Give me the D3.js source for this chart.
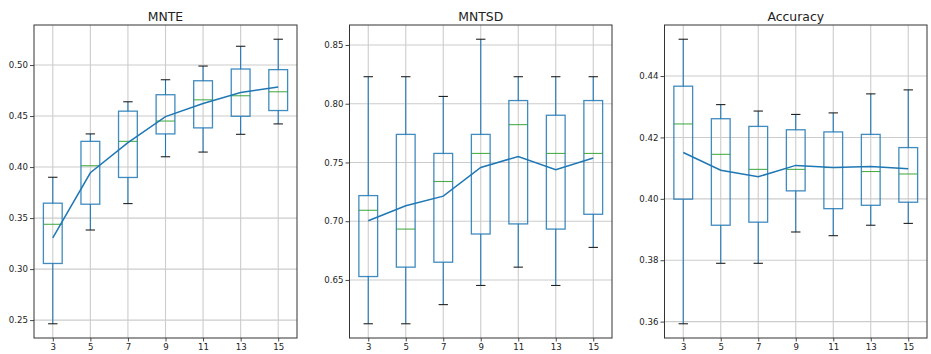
<!DOCTYPE html>
<html>
<head>
<meta charset="utf-8">
<script src="https://cdn.jsdelivr.net/npm/d3@7"></script>
<style>
  body { margin: 0; background: #fff; }
  svg { display: block; }
  text { font-family: "DejaVu Sans", sans-serif; fill: #222; }
</style>
</head>
<body>
<svg id="chart" width="931" height="354"></svg>
<script>
// Window sizes (number of neighbours) shown on every panel
const categories = ["3", "5", "7", "9", "11", "13", "15"];

// MNTE: five-number summaries per window size, plus mean curve
const mnteWhiskerLow = [0.2464, 0.3383, 0.3642, 0.4101, 0.4147, 0.4321, 0.4423];
const mnteQ1         = [0.3055, 0.3636, 0.3898, 0.4325, 0.4384, 0.4498, 0.4554];
const mnteMedian     = [0.3439, 0.4013, 0.4252, 0.4451, 0.4659, 0.4699, 0.4738];
const mnteQ3         = [0.3646, 0.4252, 0.4548, 0.4709, 0.4846, 0.4961, 0.4955];
const mnteWhiskerHigh= [0.3900, 0.4325, 0.4640, 0.4856, 0.4990, 0.5184, 0.5253];
const mnteMean       = [0.3307, 0.3944, 0.4240, 0.4495, 0.4623, 0.4731, 0.4784];
const mnteTicks      = [0.25, 0.30, 0.35, 0.40, 0.45, 0.50];

// MNTSD
const mntsdWhiskerLow = [0.6127, 0.6127, 0.6290, 0.6453, 0.6609, 0.6453, 0.6777];
const mntsdQ1         = [0.6529, 0.6609, 0.6651, 0.6891, 0.6977, 0.6933, 0.7059];
const mntsdMedian     = [0.7093, 0.6933, 0.7338, 0.7577, 0.7822, 0.7577, 0.7577];
const mntsdQ3         = [0.7218, 0.7739, 0.7577, 0.7739, 0.8027, 0.7902, 0.8027];
const mntsdWhiskerHigh= [0.8230, 0.8230, 0.8062, 0.8549, 0.8230, 0.8230, 0.8230];
const mntsdMean       = [0.7004, 0.7132, 0.7213, 0.7457, 0.7551, 0.7438, 0.7538];
const mntsdTicks      = [0.65, 0.70, 0.75, 0.80, 0.85];

// Accuracy
const accWhiskerLow = [0.3593, 0.3790, 0.3790, 0.3892, 0.3880, 0.3914, 0.3920];
const accQ1         = [0.3999, 0.3914, 0.3924, 0.4026, 0.3968, 0.3979, 0.3989];
const accMedian     = [0.4244, 0.4145, 0.4096, 0.4096, 0.4102, 0.4089, 0.4081];
const accQ3         = [0.4367, 0.4261, 0.4236, 0.4225, 0.4218, 0.4210, 0.4167];
const accWhiskerHigh= [0.4520, 0.4307, 0.4286, 0.4275, 0.4280, 0.4342, 0.4355];
const accMean       = [0.4151, 0.4093, 0.4072, 0.4109, 0.4102, 0.4105, 0.4098];
const accTicks      = [0.36, 0.38, 0.40, 0.42, 0.44];

const panels = [
  { title: "MNTE", left: 34, right: 297, lo: mnteWhiskerLow, q1: mnteQ1, med: mnteMedian,
    q3: mnteQ3, hi: mnteWhiskerHigh, mean: mnteMean, ticks: mnteTicks, fmt: d3.format(".2f") },
  { title: "MNTSD", left: 349.5, right: 612, lo: mntsdWhiskerLow, q1: mntsdQ1, med: mntsdMedian,
    q3: mntsdQ3, hi: mntsdWhiskerHigh, mean: mntsdMean, ticks: mntsdTicks, fmt: d3.format(".2f") },
  { title: "Accuracy", left: 664.5, right: 927, lo: accWhiskerLow, q1: accQ1, med: accMedian,
    q3: accQ3, hi: accWhiskerHigh, mean: accMean, ticks: accTicks, fmt: d3.format(".2f") }
];

const plotTop = 25, plotBottom = 338;
const svg = d3.select("#chart");
const blue = "#1f77b4", green = "#2ca02c";

panels.forEach(p => {
  const positions = categories.map((c, i) => i + 1);
  const x = d3.scaleLinear().domain([0.5, 7.5]).range([p.left, p.right]);
  const dMin = d3.min(p.lo), dMax = d3.max(p.hi);
  const pad = (dMax - dMin) * 0.05;
  const y = d3.scaleLinear().domain([dMin - pad, dMax + pad]).range([plotBottom, plotTop]);
  const g = svg.append("g");

  // grid
  g.append("g").selectAll("line").data(positions).join("line")
    .attr("x1", d => x(d)).attr("x2", d => x(d))
    .attr("y1", plotTop).attr("y2", plotBottom)
    .attr("stroke", "#cccccc").attr("stroke-width", 1.1);
  g.append("g").selectAll("line").data(p.ticks).join("line")
    .attr("x1", p.left).attr("x2", p.right)
    .attr("y1", d => y(d)).attr("y2", d => y(d))
    .attr("stroke", "#cccccc").attr("stroke-width", 1.1);

  // axes
  const yAxis = d3.axisLeft(y).tickValues(p.ticks).tickFormat(p.fmt).tickSize(4).tickPadding(2);
  const ya = g.append("g").attr("transform", `translate(${p.left},0)`).call(yAxis);
  const xAxis = d3.axisBottom(x).tickValues(positions).tickFormat((d, i) => categories[i]).tickSize(3.5).tickPadding(2);
  const xa = g.append("g").attr("transform", `translate(0,${plotBottom})`).call(xAxis);
  [ya, xa].forEach(a => {
    a.select(".domain").remove();
    a.selectAll(".tick line").attr("stroke", "#333").attr("stroke-width", 0.9);
    a.selectAll(".tick text").attr("font-size", 8.6).attr("fill", "#222")
      .attr("font-family", "DejaVu Sans, sans-serif");
  });

  const bw = x(1.25) - x(1);   // half box width in px
  const cw = x(1.125) - x(1);  // half cap width in px
  const boxes = g.append("g").selectAll("g").data(positions).join("g");

  // whiskers
  boxes.append("line").attr("x1", d => x(d)).attr("x2", d => x(d))
    .attr("y1", (d, i) => y(p.q3[i])).attr("y2", (d, i) => y(p.hi[i]))
    .attr("stroke", blue).attr("stroke-width", 1.1);
  boxes.append("line").attr("x1", d => x(d)).attr("x2", d => x(d))
    .attr("y1", (d, i) => y(p.q1[i])).attr("y2", (d, i) => y(p.lo[i]))
    .attr("stroke", blue).attr("stroke-width", 1.1);
  // caps
  boxes.append("line").attr("x1", d => x(d) - cw).attr("x2", d => x(d) + cw)
    .attr("y1", (d, i) => y(p.hi[i])).attr("y2", (d, i) => y(p.hi[i]))
    .attr("stroke", "#222").attr("stroke-width", 1.1);
  boxes.append("line").attr("x1", d => x(d) - cw).attr("x2", d => x(d) + cw)
    .attr("y1", (d, i) => y(p.lo[i])).attr("y2", (d, i) => y(p.lo[i]))
    .attr("stroke", "#222").attr("stroke-width", 1.1);
  // box
  boxes.append("rect").attr("x", d => x(d) - bw).attr("width", 2 * bw)
    .attr("y", (d, i) => y(p.q3[i])).attr("height", (d, i) => y(p.q1[i]) - y(p.q3[i]))
    .attr("fill", "none").attr("stroke", blue).attr("stroke-width", 1.3).attr("stroke-opacity", 0.85);
  // median
  boxes.append("line").attr("x1", d => x(d) - bw).attr("x2", d => x(d) + bw)
    .attr("y1", (d, i) => y(p.med[i])).attr("y2", (d, i) => y(p.med[i]))
    .attr("stroke", green).attr("stroke-width", 1.1).attr("stroke-opacity", 0.85);

  // mean curve
  const line = d3.line().x(d => x(d[0])).y(d => y(d[1]));
  g.append("path").datum(positions.map((d, i) => [d, p.mean[i]]))
    .attr("d", line).attr("fill", "none").attr("stroke", blue).attr("stroke-width", 1.5);

  // frame
  g.append("rect").attr("x", p.left).attr("y", plotTop)
    .attr("width", p.right - p.left).attr("height", plotBottom - plotTop)
    .attr("fill", "none").attr("stroke", "#333").attr("stroke-width", 1);

  // title
  g.append("text").attr("x", (p.left + p.right) / 2).attr("y", 20.5)
    .attr("text-anchor", "middle").attr("font-size", 12.4).text(p.title);
});
</script>
</body>
</html>
